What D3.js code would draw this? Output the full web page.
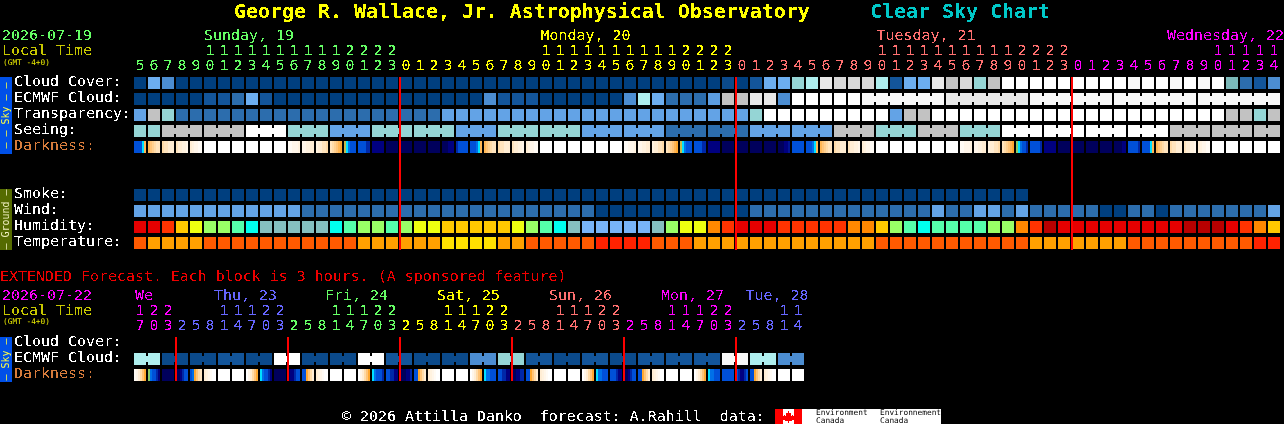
<!DOCTYPE html>
<html>
<head>
<meta charset="utf-8">
<title>Clear Sky Chart</title>
<script src="https://cdnjs.cloudflare.com/ajax/libs/d3/7.8.5/d3.min.js"></script>
<style>
  html, body { margin: 0; padding: 0; background: #000; overflow: hidden; }
  svg { display: block; }
  text { font-family: "DejaVu Sans Mono", "Liberation Mono", monospace; white-space: pre; }
</style>
</head>
<body>
<div id="chart"></div>
<script>
// hours along the top, one per block
var topHours = [5,6,7,8,9,10,11,12,13,14,15,16,17,18,19,20,21,22,23,
  0,1,2,3,4,5,6,7,8,9,10,11,12,13,14,15,16,17,18,19,20,21,22,23,
  0,1,2,3,4,5,6,7,8,9,10,11,12,13,14,15,16,17,18,19,20,21,22,23,
  0,1,2,3,4,5,6,7,8,9,10,11,12,13,14];
var extHours = [17,20,23,
  2,5,8,11,14,17,20,23,
  2,5,8,11,14,17,20,23,
  2,5,8,11,14,17,20,23,
  2,5,8,11,14,17,20,23,
  2,5,8,11,14,17,20,23,
  2,5,8,11,14];

var topDays = ["Sunday, 19", "Monday, 20", "Tuesday, 21", "Wednesday, 22"];
var extDays = ["We", "Thu, 23", "Fri, 24", "Sat, 25", "Sun, 26", "Mon, 27", "Tue, 28"];
var topLabels = ["Cloud Cover:", "ECMWF Cloud:", "Transparency:", "Seeing:", "Darkness:"];
var groundLabels = ["Smoke:", "Wind:", "Humidity:", "Temperature:"];
var extLabels = ["Cloud Cover:", "ECMWF Cloud:", "Darkness:"];

// cloud in percent
var cloudCover = [0,40,30,0,0,0,0,0,0,0,0,0,0,0,0,0,0,0,0,0,0,0,0,0,0,0,0,0,0,0,0,0,0,0,0,0,0,0,0,0,0,0,5,0,10,40,40,60,50,90,80,80,
  80,50,10,40,40,90,70,80,60,70,100,100,100,100,100,100,100,100,100,95,100,100,95,100,95,100,65,20,10,30];
var ecmwfCloud = [0,0,0,0,0,10,10,20,40,10,0,0,0,0,0,0,0,0,0,0,0,0,0,0,0,30,10,10,10,0,0,0,0,0,0,30,50,40,20,20,20,35,70,70,90,90,30,100,100,100,100,100,
  95,95,95,95,95,95,90,90,90,90,90,90,95,95,95,95,95,95,95,95,95,95,95,95,95,95,95,95,95,95];
// transparency and seeing, in fifths (0 = too cloudy to say)
var transparency = [3,1,2,4,4,4,4,4,4,4,4,4,4,4,4,4,4,4,4,4,4,4,3,3,3,3,3,3,3,3,3,3,3,3,3,3,3,3,3,3,3,3,3,3,2,0,0,0,0,0,0,0,
  0,0,3,1,1,0,0,0,0,0,0,0,0,0,0,0,0,0,0,0,0,0,0,0,0,0,1,1,2,1];
var seeing = [2,2,1,1,1,1,1,1,0,0,0,2,2,2,3,3,3,2,2,2,2,2,2,3,3,3,2,2,2,2,2,2,3,3,3,3,3,3,4,4,4,4,4,4,3,3,3,3,3,3,1,1,
  1,2,2,2,1,1,1,2,2,2,0,0,0,0,0,0,0,0,0,0,0,0,1,1,1,1,1,1,1,1];
// darkness steps across each block, 0 = daylight, 12 = full dark
var darkness = [[9,9,9,9,7,4.5],[4.5,4,3.5,3,2.5,2.5],[3,2.5,2.5,2,2,2],[2.5,2,2,1.5,1.5,1],[2,1.5,1,1,.5,.5],[0],[0],[0],[0],[0],[0],
  [.5,.5,1,1,1,1.5],[1,1,1.5,1.5,2,2],[1.5,2,2,2.5,2.5,3],[2.5,3,3.5,4,4.5,5],[5.5,7,8,9,9,9],[9,9,9,9,10,10],[11,11,11,11,11,11],[12],[12],[12],
  [12],[12,12,12,11,11,11],[10,9,9,9,9,9],[9,9,9,8,7,4.5],[4.5,4,3.5,3,2.5,2.5],[3,2.5,2.5,2,2,2],[2.5,2,2,1.5,1.5,1],[2,1.5,1,1,.5,.5],[0],[0],[0],[0],[0],[0],
  [.5,.5,1,1,1,1.5],[1,1,1.5,1.5,2,2],[1.5,2,2,2.5,2.5,3],[2.5,3,3.5,4,4.5,5],[5.5,7,8,9,9,9],[9,9,9,9,10,10],[11,11,11,11,11,11],[12],[12],[12],[12],[12,12,12,11,11,10.5],[9],[9,9,9,8,7,4.5],[4.5,4,3.5,3,2.5,2.5],[3,2.5,2.5,2,2,2],[2.5,2,2,1.5,1.5,1],
  [2,1.5,1,1,.5,.5],[0],[0],[0],[0],[0],[0],[.5,.5,1,1,1,1.5],[1,1,1.5,1.5,2,2],[1.5,2,2,2.5,2.5,3],[2.5,3,3.5,4,4.5,5],[6,7,8,9,9,10],[9,9,9,9,9,10],[11,11,11,11,11,11],[12],[12],[12],[12],[12,12,12,12,11,11],[9,9,9,9,9,10],[9,9,9,9,7,4.5],[4.5,4,3.5,3,2.5,2.5],[3,2.5,2.5,2,2,2],[2.5,2,2,1.5,1.5,1],[2,1.5,1,1,.5,.5],[0],[0],[0],[0],[0]];

// smoke runs out before the rest of the forecast does
var smoke = [0,0,0,0,0,0,0,0,0,0,0,0,0,0,0,0,0,0,0,0,0,0,0,0,0,0,0,0,0,0,0,0,0,0,0,0,0,0,0,0,0,0,0,0,0,0,0,0,0,0,0,0,
  0,0,0,0,0,0,0,0,0,0,0,0];
// wind bands, 3 to 5 is lightest to darkest colour used here
var wind = [3,3,3,3,3,3,3,3,3,3,3,3,4,4,4,4,4,4,4,4,4,4,4,4,4,4,4,4,4,4,4,4,4,5,5,5,5,5,5,5,5,5,5,5,4,4,4,4,4,4,4,4,
  4,4,4,4,4,3,4,4,3,3,4,3,4,4,4,4,4,5,5,4,4,5,4,4,4,4,4,4,4,3];
var humidity = [90,90,85,75,70,65,65,60,55,50,50,50,50,50,55,60,65,65,60,65,70,
  70,75,75,75,75,75,70,65,60,55,50,45,45,45,45,45,50,65,70,70,80,85,90,90,90,85,85,85,85,85,80,
  80,75,65,60,55,60,60,60,60,65,65,80,85,95,90,90,90,90,90,90,90,90,90,95,95,95,90,85,80,75];
var temperature = [27,24,24,24,24,27,27,27,27,27,27,27,27,27,27,27,24,24,24,24,24,
  24,21,21,21,21,24,24,27,27,27,27,27,30,30,30,30,27,27,27,24,24,24,24,24,24,24,24,24,24,24,24,
  24,27,27,27,27,27,27,27,27,27,27,27,24,24,24,24,24,24,24,27,27,27,27,27,27,27,27,27,30,30];

var extCloud = [50,50,5,5,5,5,10,10,5,5,100,100,5,5,5,5,100,100,10,10,5,5,5,5,30,30,60,60,10,10,5,5,10,10,5,5,10,10,10,10,10,10,95,95,50,50,30,30];
var extDarkness = [[.5,1,2,3,4,5],[6,8,9,9,10,11],[12],[12,12,11,10,9,9],[9,8,5,4,3,2.5],[2,1.5,1,.5,0,0],[0],[0],
  [0,1,2,3,4,5],[7,8,9,9,10,11],[12],[12,11,11,10,9,9],[9,9,5,4,3,2],[2,1.5,1,.5,0,0],[0],[0],
  [0,1,2,3,4,5],[7,8,9,9,9,10],[9,9,10,10,11,11],[12,12,12,11,11,10],[9,9,5,4,3,2],[2,1.5,1,.5,0,0],[0],[0],
  [0,1,2,3,4,5],[7,8,8,9,9,9],[9,9,10,10,11,11],[12,12,11,11,10,10],[9,9,5,4,3,2],[2,1.5,1,.5,0,0],[0],[0],
  [0,1,2,3,4,5],[7,8,8,9,9,9],[9,9,9,10,11,11],[12,12,11,10,9,9],[9,9,5,4,3,2],[2,1.5,1,.5,0,0],[0],[0],
  [0,1,2,3,4,5],[7,8,8,9,9,9],[9,9,9,9,9,9],[9,10,11,11,10,9],[9,9,5,4,3,2],[2,1.5,1,.5,0,0],[0],[0]];

var RED = "#ff0000";
var GREEN = "#66ff66", YELLOW = "#ffff00", SALMON = "#ff7070", MAGENTA = "#ff00ff", PERI = "#6666ff";

var cloudColor = d3.scaleOrdinal()
  .domain([0,5,10,20,30,35,40,50,60,65,70,80,90,95,100])
  .range(["#003f7f","#0b4a8b","#13559a","#2c6dad","#4c8dd1","#5c9de0","#6caef0","#aeeeee","#95d5d5","#7cb9b9","#c2c2c2","#d8d8d8","#e8e8e8","#f8f8f8","#ffffff"]);
var fifthsColor = d3.scaleOrdinal()
  .domain([0,1,2,3,4,5])
  .range(["#ffffff","#c2c2c2","#95d5d5","#63a3e6","#2c6dad","#003f7f"]);
var windColor = d3.scaleOrdinal()
  .domain([3,4,5])
  .range(["#63a3e6","#2c6dad","#003f7f"]);
var humidityColor = d3.scaleOrdinal()
  .domain([45,50,55,60,65,70,75,80,85,90,95])
  .range(["#78b4f8","#85bfbf","#00ffee","#55ffaa","#99ff66","#eeff10","#ffc800","#ff8800","#ff3300","#e60000","#b80000"]);
var temperatureColor = d3.scaleOrdinal()
  .domain([21,24,27,30])
  .range(["#ffe000","#ffa000","#ff5a00","#ff2200"]);
var darknessColor = d3.scaleLinear()
  .domain([0,1,2,3,4,5,6,7,8,9,10,11,12])
  .range(["#ffffff","#fff6ea","#ffedd4","#ffdba8","#ffc478","#ffa830","#88cc66","#00e0ff","#0070e8","#0050d8","#0028a8","#000080","#00005c"]);

var svg = d3.select("#chart").append("svg")
  .attr("width", 1284)
  .attr("height", 424);

// squares off the antialiasing so the text looks like the bitmap font
var filter = svg.append("defs").append("filter").attr("id", "bitmap")
  .attr("filterUnits", "userSpaceOnUse")
  .attr("color-interpolation-filters", "sRGB")
  .attr("x", 0).attr("y", 0)
  .attr("width", 1284).attr("height", 424);
filter.append("feComponentTransfer").append("feFuncA")
  .attr("type", "discrete").attr("tableValues", "0 1");

// step comes out at 14, block at 12
var x = d3.scaleBand()
  .domain(d3.range(topHours.length))
  .range([134, 134 + 14 * topHours.length - 2])
  .paddingInner(2 / 14)
  .paddingOuter(0);
var xExt = d3.scaleBand()
  .domain(d3.range(extHours.length))
  .range([134, 134 + 14 * extHours.length - 2])
  .paddingInner(2 / 14)
  .paddingOuter(0);

var blockLayer = svg.append("g").attr("shape-rendering", "crispEdges");
var lineLayer = svg.append("g").attr("shape-rendering", "crispEdges");
var textLayer = svg.append("g").attr("filter", "url(#bitmap)");
// the tiny text would fall apart in the filter
var smallLayer = svg.append("g");

function label(text, px, py, color, size, bold) {
  return textLayer.append("text")
    .attr("x", px).attr("y", py)
    .attr("fill", color)
    .attr("font-size", size || 14.95)
    .attr("font-weight", bold ? "bold" : null)
    .text(text);
}

function tiny(text, px, py, color) {
  return smallLayer.append("text")
    .attr("x", px).attr("y", py)
    .attr("fill", color)
    .attr("font-size", 7.8)
    .text(text);
}

// one row of square blocks. joinSize/joinFrom bridge the blocks that
// share a forecast step with a little neck
function row(scale, values, y, color, joinSize, joinFrom) {
  var g = blockLayer.append("g");
  var bw = scale.bandwidth();
  g.selectAll("rect.block")
    .data(values)
    .enter().append("rect")
    .attr("class", "block")
    .attr("x", function(d, i) { return scale(i); })
    .attr("y", y)
    .attr("width", bw)
    .attr("height", 12)
    .attr("fill", color);
  if (!joinSize) return;
  g.selectAll("rect.neck")
    .data(values.slice(0, -1))
    .enter().append("rect")
    .attr("class", "neck")
    .attr("x", function(d, i) { return scale(i) + bw; })
    .attr("y", y + 3)
    .attr("width", 2)
    .attr("height", 6)
    .attr("fill", color)
    .attr("visibility", function(d, i) {
      return (i >= joinFrom && (i + 1 - joinFrom) % joinSize !== 0) ? "visible" : "hidden";
    });
}

function darknessRow(scale, values, y) {
  var bw = scale.bandwidth();
  var cells = blockLayer.append("g").selectAll("g")
    .data(values)
    .enter().append("g")
    .attr("transform", function(d, i) { return "translate(" + scale(i) + "," + y + ")"; });
  cells.selectAll("rect")
    .data(function(d) { return d; })
    .enter().append("rect")
    .attr("x", function(d, i, nodes) { return i * bw / nodes.length; })
    .attr("width", function(d, i, nodes) { return bw / nodes.length; })
    .attr("height", 12)
    .attr("fill", function(d) { return darknessColor(d); });
}

// hour digits come off two axes sharing the block scale
function hourAxis(scale, hours, baseline, format, dayColor) {
  var g = textLayer.append("g")
    .attr("transform", "translate(0," + baseline + ")")
    .call(d3.axisTop(scale).offset(0).tickSize(0).tickPadding(0).tickFormat(function(i) { return format(hours[i]); }));
  g.select(".domain").remove();
  g.selectAll("text")
    .attr("fill", function(i) { return dayColor(i); })
    .attr("font-size", 14.95)
    .attr("font-family", null);
}

function ones(h) { return h % 10; }
function tens(h) { return h >= 10 ? Math.floor(h / 10) : ""; }

// colours change at midnight
function topDayColor(i) {
  return i < 19 ? GREEN : i < 43 ? YELLOW : i < 67 ? SALMON : MAGENTA;
}
function extDayColor(i) {
  var palette = [MAGENTA, PERI, GREEN, YELLOW, SALMON, MAGENTA, PERI];
  return palette[i < 3 ? 0 : Math.floor((i - 3) / 8) + 1];
}

// title
label("George R. Wallace, Jr. Astrophysical Observatory", 234, 18, YELLOW, 19.93, true);
label("Clear Sky Chart", 870, 18, "#00c8c8", 19.93, true);

// main header
label("2026-07-19", 2, 40, GREEN);
label("Local Time", 2, 55, "#c8c800");
tiny("(GMT -4+0)", 3, 65, "#e8e800");
[204, 540.5, 876.5, 1167].forEach(function(px, i) {
  label(topDays[i], px, 40, [GREEN, YELLOW, SALMON, MAGENTA][i]);
});
hourAxis(x, topHours, 55, tens, topDayColor);
hourAxis(x, topHours, 70, ones, topDayColor);

// side bars
function sideBar(y0, y1, fill, text, color) {
  lineLayer.append("rect")
    .attr("x", 0).attr("y", y0).attr("width", 12).attr("height", y1 - y0)
    .attr("fill", fill);
  smallLayer.append("text")
    .attr("transform", "translate(9," + ((y0 + y1) / 2) + ") rotate(-90)")
    .attr("text-anchor", "middle")
    .attr("fill", color)
    .attr("font-size", 10)
    .text(text);
}
sideBar(77, 154, "#0050e8", "\u2013 \u2013 Sky \u2013 \u2013", "#ffff40");
sideBar(189, 250, "#556b00", "\u2013 Ground \u2013", "#f0f0c0");
sideBar(337, 382, "#0050e8", "\u2013 Sky \u2013", "#ffff40");

// main rows
topLabels.forEach(function(t, i) {
  label(t, 14, 86 + i * 16, t === "Darkness:" ? "#d87c3c" : "#ffffff");
});
row(x, cloudCover, 77, cloudColor);
row(x, ecmwfCloud, 93, cloudColor, 6, 52);
row(x, transparency, 109, fifthsColor);
row(x, seeing, 125, fifthsColor, 3, 2);
darknessRow(x, darkness, 141);

// ground rows
groundLabels.forEach(function(t, i) {
  label(t, 14, 198 + i * 16, "#ffffff");
});
row(x, smoke, 189, cloudColor);
row(x, wind, 205, windColor);
row(x, humidity, 221, humidityColor);
row(x, temperature, 237, temperatureColor);

// midnight lines
[19, 43, 67].forEach(function(i) {
  lineLayer.append("rect")
    .attr("x", x(i) - 1).attr("y", 77)
    .attr("width", 2).attr("height", 173)
    .attr("fill", RED);
});

// extended forecast
label("EXTENDED Forecast. Each block is 3 hours. (A sponsored feature)", 0, 281, "#ee0000");
label("2026-07-22", 2, 300, MAGENTA);
label("Local Time", 2, 315, "#c8c800");
tiny("(GMT -4+0)", 3, 324, "#e8e800");
[135, 214, 325, 437, 549, 661, 745.5].forEach(function(px, i) {
  label(extDays[i], px, 300, [MAGENTA, PERI, GREEN, YELLOW, SALMON, MAGENTA, PERI][i]);
});
hourAxis(xExt, extHours, 315, tens, extDayColor);
hourAxis(xExt, extHours, 330, ones, extDayColor);
extLabels.forEach(function(t, i) {
  label(t, 14, 346 + i * 16, t === "Darkness:" ? "#d87c3c" : "#ffffff");
});
row(xExt, extCloud, 353, cloudColor, 2, 0);
darknessRow(xExt, extDarkness, 369);
[3, 11, 19, 27, 35, 43].forEach(function(i) {
  lineLayer.append("rect")
    .attr("x", xExt(i) - 1).attr("y", 337)
    .attr("width", 2).attr("height", 44)
    .attr("fill", RED);
});

// footer
label("\u00a9 2026 Attilla Danko  forecast: A.Rahill  data:", 342, 421, "#ffffff");

// Environment Canada logo
var logo = lineLayer.append("g").attr("transform", "translate(775,409)");
logo.append("rect").attr("width", 166).attr("height", 15).attr("fill", "#ffffff");
logo.append("rect").attr("width", 8).attr("height", 15).attr("fill", "#ff0000");
logo.append("rect").attr("x", 19).attr("width", 8).attr("height", 15).attr("fill", "#ff0000");
logo.append("path")
  .attr("d", "M13.5 2l1.5 2.5 1.5-.5-.5 3 2-1.5.5 1.5 1.5-.5-1 2 1 1-3.5 2.5-2.5-.5v2h-1v-2l-2.5.5-3.5-2.5 1-1-1-2 1.5.5.5-1.5 2 1.5-.5-3 1.5.5z")
  .attr("fill", "#ff0000");
[["Environment", 816, 415], ["Canada", 816, 423], ["Environnement", 880, 415], ["Canada", 880, 423]].forEach(function(t) {
  tiny(t[0], t[1], t[2], "#000000");
});
</script>
</body>
</html>
